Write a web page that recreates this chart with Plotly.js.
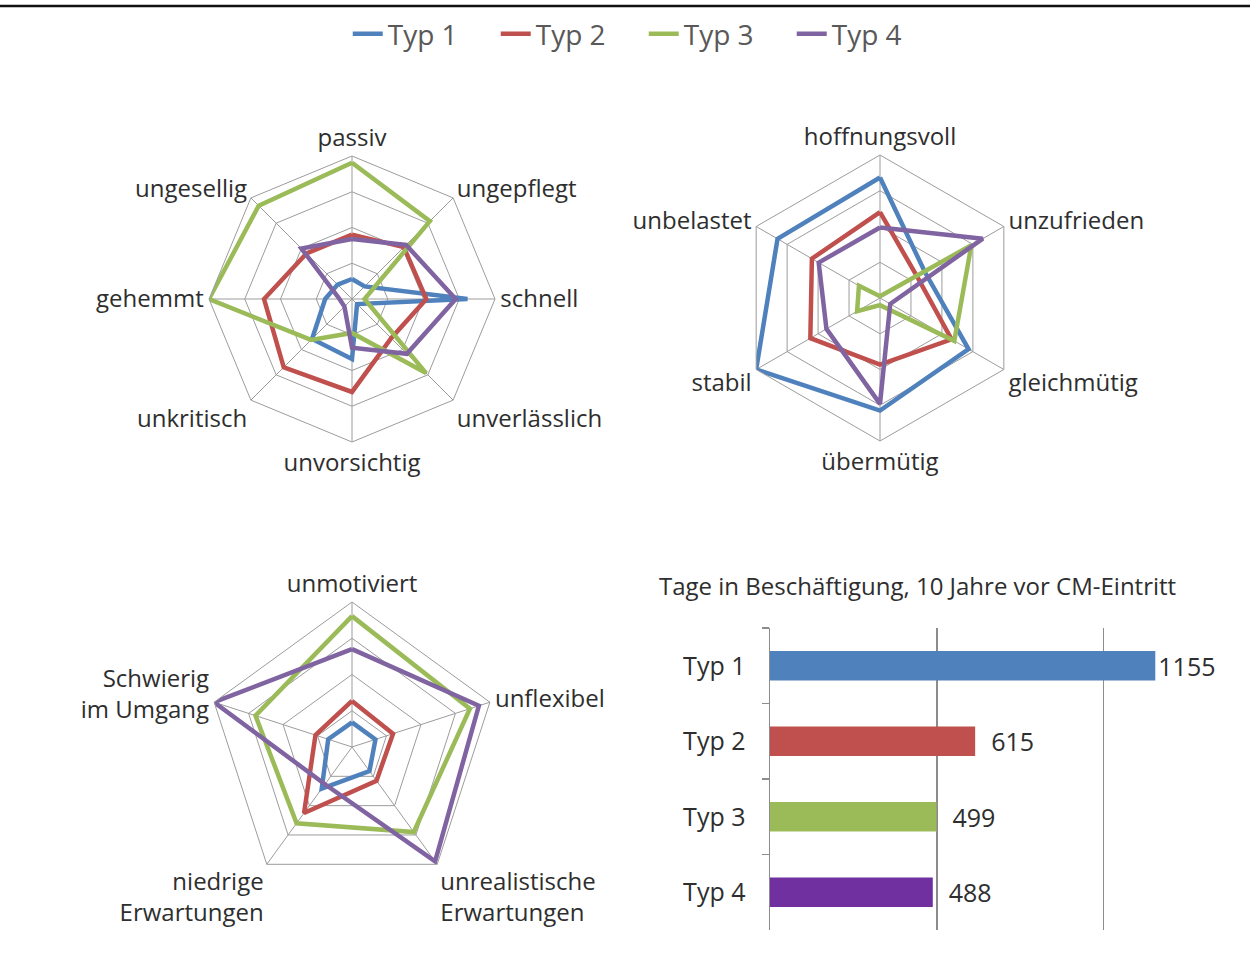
<!DOCTYPE html>
<html>
<head>
<meta charset="utf-8">
<script src="https://cdn.plot.ly/plotly-3.0.1.min.js"></script>
<style>html,body{margin:0;padding:0;background:#fff;}#chart{width:1250px;height:972px;}</style>
</head>
<body>
<div id="chart"></div>
<script>
// ---- data ----
const typeNames = ['Typ 1', 'Typ 2', 'Typ 3', 'Typ 4'];

const radar1Axes = ['passiv', 'ungepflegt', 'schnell', 'unverlässlich', 'unvorsichtig', 'unkritisch', 'gehemmt', 'ungesellig'];
const radar1Typ1 = [0.56, 0.5, 3.23, 0.2, 1.68, 1.58, 0.75, 0.57];
const radar1Typ2 = [1.8, 2.05, 2.08, 1.55, 2.6, 2.7, 2.46, 1.8];
const radar1Typ3 = [3.81, 3.08, 0.35, 2.93, 0.95, 1.62, 4.0, 3.69];
const radar1Typ4 = [1.68, 2.14, 2.9, 2.17, 1.36, 0.3, 0.35, 2.0];

const radar2Axes = ['hoffnungsvoll', 'unzufrieden', 'gleichmütig', 'übermütig', 'stabil', 'unbelastet'];
const radar2Typ1 = [3.37, 1.45, 2.86, 3.15, 4.0, 3.31];
const radar2Typ2 = [2.4, 1.2, 2.31, 1.86, 2.25, 2.2];
const radar2Typ3 = [0.05, 2.95, 2.4, 0.2, 0.74, 0.68];
const radar2Typ4 = [1.97, 3.32, 0.33, 2.96, 1.73, 1.98];

const radar3Axes = ['unmotiviert', 'unflexibel', 'unrealistische<br>Erwartungen', 'niedrige<br>Erwartungen', 'Schwierig<br>im Umgang'];
const radar3Typ1 = [0.68, 0.68, 0.82, 1.42, 0.69];
const radar3Typ2 = [1.27, 1.19, 1.15, 2.25, 1.06];
const radar3Typ3 = [3.61, 3.42, 2.9, 2.6, 2.8];
const radar3Typ4 = [2.7, 3.68, 3.9, 1.27, 4.0];

const barTitle = 'Tage in Beschäftigung, 10 Jahre vor CM-Eintritt';
const barCategories = ['Typ 1', 'Typ 2', 'Typ 3', 'Typ 4'];
const barValues = [1155, 615, 499, 488];

// ---- styles ----
const lineColors = ['#4F81BD', '#C0504D', '#9BBB59', '#8064A2'];
const barColors = ['#4F81BD', '#C0504D', '#9BBB59', '#7030A0'];
const barLabelTemplates = ['%{x}', '\u00A0\u00A0%{x}', '\u00A0\u00A0%{x}', '\u00A0\u00A0%{x}'];
const gridCol = '#9c9c9c';
const textCol = '#2e2e2e';
const labelFont = {family: 'Open Sans, sans-serif', size: 24, color: textCol};
const barFont = {family: 'Open Sans, sans-serif', size: 25, color: textCol};

const W = 1250, H = 972;
function dom(cx, cy, R) {
  return {x: [(cx - R) / W, (cx + R) / W], y: [1 - (cy + R) / H, 1 - (cy - R) / H]};
}

const traces = [];
function addRadar(axes, series, subplot, showLegend) {
  series.forEach((vals, i) => {
    traces.push({
      type: 'scatterpolar',
      mode: 'lines',
      r: vals.concat([vals[0]]),
      theta: axes.concat([axes[0]]),
      name: typeNames[i],
      legendgroup: typeNames[i],
      showlegend: showLegend,
      subplot: subplot,
      line: {color: lineColors[i], width: 4.5},
      hoverinfo: 'skip'
    });
  });
}
addRadar(radar1Axes, [radar1Typ1, radar1Typ2, radar1Typ3, radar1Typ4], 'polar', true);
addRadar(radar2Axes, [radar2Typ1, radar2Typ2, radar2Typ3, radar2Typ4], 'polar2', false);
addRadar(radar3Axes, [radar3Typ1, radar3Typ2, radar3Typ3, radar3Typ4], 'polar3', false);

traces.push({
  type: 'bar',
  orientation: 'h',
  x: barValues,
  y: barCategories,
  marker: {color: barColors},
  width: 0.39,
  texttemplate: barLabelTemplates,
  textposition: 'outside',
  constraintext: 'none',
  textfont: barFont,
  cliponaxis: false,
  showlegend: false,
  hoverinfo: 'skip',
  xaxis: 'x',
  yaxis: 'y'
});

function polarCfg(d, axes) {
  return {
    domain: d,
    gridshape: 'linear',
    bgcolor: 'rgba(0,0,0,0)',
    radialaxis: {range: [0, 4], tickvals: [1, 2, 3, 4], showticklabels: false, ticks: '',
      showline: false, gridcolor: gridCol, gridwidth: 1},
    angularaxis: {direction: 'clockwise', rotation: 90, type: 'category', categoryorder: 'array',
      categoryarray: axes, gridcolor: gridCol, linecolor: gridCol, linewidth: 1, showline: true,
      ticks: '', tickfont: labelFont}
  };
}

const layout = {
  width: W, height: H,
  margin: {l: 0, r: 0, t: 0, b: 0},
  paper_bgcolor: '#fff', plot_bgcolor: '#fff',
  showlegend: true,
  legend: {orientation: 'h', x: 0.515, xanchor: 'center', y: 1 - 34 / H, yanchor: 'middle',
    font: {family: 'Open Sans, sans-serif', size: 28, color: '#595959'},
    entrywidth: 103, entrywidthmode: 'pixels', tracegroupgap: 0},
  polar: polarCfg(dom(352, 299, 143), radar1Axes),
  polar2: polarCfg(dom(880, 298, 143), radar2Axes),
  polar3: polarCfg(dom(352, 747, 145), radar3Axes),
  xaxis: {domain: [770 / W, 1197 / W], anchor: 'y', range: [0, 1280], dtick: 500, tick0: 0,
    showticklabels: false, showgrid: true, gridcolor: '#8c8c8c', gridwidth: 1.5, zeroline: false,
    showline: false, ticks: ''},
  yaxis: {domain: [1 - 930 / H, 1 - 628 / H], anchor: 'x', autorange: 'reversed', type: 'category',
    showline: true, linecolor: '#8c8c8c', linewidth: 1.5, ticks: 'outside', tickson: 'boundaries',
    ticklen: 7, tickcolor: '#8c8c8c', tickwidth: 1.5, showgrid: false, zeroline: false,
    tickfont: barFont, ticklabelstandoff: 18},
  annotations: [{text: barTitle, xref: 'paper', yref: 'paper', x: 917 / W, y: 1 - 585 / H,
    xanchor: 'center', yanchor: 'middle', showarrow: false,
    font: {family: 'Open Sans, sans-serif', size: 24, color: textCol}}],
  shapes: [{type: 'line', xref: 'paper', yref: 'paper', x0: 0, x1: 1, y0: 1 - 6 / H, y1: 1 - 6 / H,
    line: {color: '#111', width: 2.5}}]
};

Plotly.newPlot('chart', traces, layout, {staticPlot: true, displayModeBar: false});
</script>
</body>
</html>
